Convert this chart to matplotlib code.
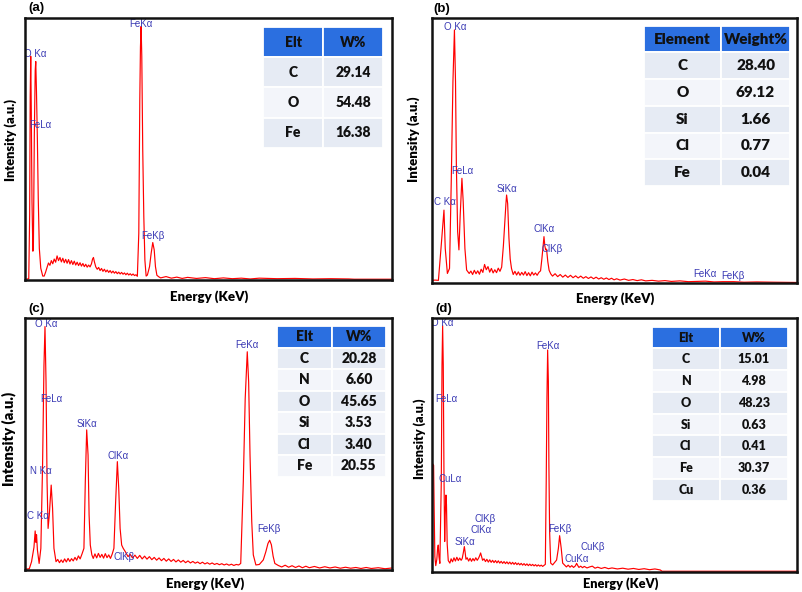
import matplotlib
matplotlib.use('Agg')
import matplotlib.pyplot as plt

A = "\u03b1"
B = "\u03b2"

# ---------------- data (energy keV, intensity a.u. 0-100) ----------------
a_spectrum = [
    (-0.07, 0.3), (0.0, 0.3), (0.14, 0.5), (0.19, 25), (0.22, 70), (0.25, 85.4), (0.28, 65), (0.32, 30),
    (0.37, 11), (0.40, 14), (0.45, 55), (0.50, 80), (0.53, 83.4), (0.57, 72), (0.62, 54), (0.67, 31),
    (0.73, 12), (0.81, 4.5), (0.92, 1.5),
    (1.00, 1.5), (1.08, 3.0), (1.16, 4.8), (1.24, 6.5), (1.32, 5.6), (1.40, 7.4), (1.48, 6.2), (1.56, 8.0),
    (1.64, 6.8), (1.72, 9.2), (1.80, 7.4), (1.88, 8.6), (1.96, 6.9), (2.04, 8.3), (2.12, 6.6), (2.20, 7.9),
    (2.28, 6.4), (2.36, 7.8), (2.44, 6.1), (2.52, 7.4), (2.60, 5.9), (2.68, 7.2), (2.76, 5.7), (2.84, 6.8),
    (2.92, 5.5), (3.00, 6.6), (3.08, 5.3), (3.16, 6.3), (3.24, 5.1), (3.32, 6.0), (3.40, 4.9), (3.48, 5.7),
    (3.56, 5.0), (3.64, 6.2), (3.70, 8.0), (3.75, 8.6), (3.80, 7.0), (3.88, 5.0), (3.96, 4.1), (4.04, 4.8),
    (4.12, 3.6), (4.20, 4.4), (4.28, 3.3), (4.36, 4.1), (4.44, 3.1), (4.52, 3.8), (4.60, 2.9), (4.68, 3.6),
    (4.76, 2.7), (4.84, 3.4), (4.92, 2.6), (5.00, 3.2), (5.08, 2.4), (5.16, 3.0), (5.24, 2.3), (5.32, 2.9),
    (5.40, 2.2), (5.48, 2.7), (5.56, 2.0), (5.64, 2.6), (5.72, 1.9), (5.80, 2.4), (5.88, 1.8), (5.96, 2.3),
    (6.04, 1.7), (6.12, 2.0), (6.20, 1.4),
    (6.28, 17.8), (6.336, 68.8), (6.373, 89), (6.41, 96.8), (6.447, 85.4), (6.50, 49.7), (6.56, 24.2),
    (6.62, 7.6), (6.69, 1.5), (6.76, 1.9), (6.88, 5.1), (6.97, 10.2), (7.06, 14.3), (7.14, 11.5),
    (7.21, 5.1), (7.29, 1.8), (7.40, 1.2),
    (7.5, 0.8), (7.8, 1.3), (8.1, 0.7), (8.4, 1.1), (8.7, 0.6), (9.0, 1.0), (9.5, 0.6), (10.0, 0.9),
    (10.5, 0.5), (11.0, 0.8), (11.5, 0.5), (12.0, 0.7), (12.5, 0.4), (13.0, 0.7), (14.0, 0.5), (15.0, 0.6),
    (16.0, 0.4), (17.0, 0.5), (18.0, 0.4), (18.3, 0.3), (20.4, 0.3)]

b_spectrum = [
    (0.0, 1.0), (0.07, 1.1), (0.15, 1.0), (0.21, 13), (0.28, 27.5), (0.31, 13), (0.36, 3.6), (0.41, 5.5),
    (0.45, 38), (0.49, 76), (0.525, 95.5), (0.55, 76), (0.57, 44.5), (0.60, 19.4), (0.63, 12.5),
    (0.66, 25.7), (0.70, 39.5), (0.73, 30.7), (0.77, 13), (0.81, 4.9),
    (0.87, 3.6), (0.91, 4.5), (0.95, 3.2), (0.99, 4.8), (1.03, 3.5), (1.07, 4.6), (1.11, 3.3), (1.15, 5.2),
    (1.19, 4.0), (1.23, 7.0), (1.27, 5.0), (1.31, 6.2), (1.35, 4.1), (1.39, 5.5), (1.43, 3.8), (1.47, 5.0),
    (1.51, 3.9), (1.55, 5.6), (1.59, 4.4), (1.63, 6.0),
    (1.67, 14), (1.70, 22), (1.73, 30), (1.745, 33.2), (1.77, 30), (1.80, 17), (1.83, 9), (1.86, 5.5),
    (1.90, 3.2), (1.94, 4.4), (1.98, 3.0), (2.02, 4.2), (2.06, 2.9), (2.10, 4.0), (2.14, 3.0), (2.18, 4.3),
    (2.22, 2.8), (2.26, 3.9), (2.30, 2.7), (2.34, 4.1), (2.38, 3.0), (2.42, 3.8), (2.46, 2.9), (2.50, 4.0),
    (2.54, 4.6),
    (2.57, 9), (2.60, 14), (2.62, 17.5), (2.64, 14), (2.66, 12.5), (2.68, 12.8), (2.71, 8), (2.74, 4.8),
    (2.78, 3.4),
    (2.82, 2.6), (2.88, 3.5), (2.94, 2.4), (3.00, 3.2), (3.06, 2.2), (3.12, 3.0), (3.18, 2.1), (3.24, 2.9),
    (3.30, 2.0), (3.36, 2.7), (3.42, 1.9), (3.48, 2.6), (3.54, 1.8), (3.60, 2.4), (3.66, 1.7), (3.72, 2.3),
    (3.78, 1.6), (3.84, 2.2), (3.90, 1.5), (3.96, 2.0), (4.02, 1.4), (4.08, 1.9), (4.14, 1.3), (4.20, 1.8),
    (4.26, 1.2), (4.32, 1.6), (4.40, 1.1), (4.50, 1.5), (4.60, 1.0), (4.70, 1.3), (4.80, 0.9), (4.90, 1.2),
    (5.00, 0.8), (5.15, 1.0), (5.30, 0.7), (5.45, 0.9), (5.60, 0.6), (5.80, 0.8), (6.00, 0.5), (6.20, 0.6),
    (6.40, 0.7), (6.60, 0.4), (6.80, 0.5), (7.06, 0.5), (7.30, 0.3), (7.60, 0.4), (8.00, 0.3), (8.54, 0.2)]

c_spectrum = [
    (-0.05, 0.3), (0.075, 0.5), (0.14, 3.3), (0.21, 9), (0.245, 15.5), (0.265, 11), (0.285, 14), (0.31, 8),
    (0.36, 2.6), (0.41, 8.6), (0.46, 41.7), (0.50, 81), (0.53, 96.6), (0.56, 74.7), (0.59, 35), (0.62, 16.5),
    (0.655, 21.8), (0.71, 33.7), (0.75, 24.5), (0.79, 8.6), (0.85, 3.3),
    (0.90, 4.2), (0.95, 2.9), (1.00, 4.0), (1.05, 3.0), (1.10, 4.4), (1.15, 3.2), (1.20, 4.6), (1.25, 3.4),
    (1.30, 4.5), (1.35, 3.6), (1.40, 5.0), (1.45, 3.9), (1.50, 5.6), (1.55, 4.4), (1.60, 6.2),
    (1.66, 8.6), (1.70, 35), (1.74, 55.6), (1.78, 45.6), (1.81, 21.8), (1.845, 9.9), (1.89, 6.0),
    (1.93, 4.6), (1.98, 6.4), (2.03, 4.8), (2.08, 6.6), (2.13, 5.0), (2.18, 6.2), (2.23, 4.7), (2.28, 6.5),
    (2.33, 4.9), (2.38, 6.0), (2.43, 4.6), (2.48, 6.3),
    (2.53, 8.6), (2.58, 27), (2.63, 43), (2.67, 32.4), (2.71, 16.5), (2.755, 9.9), (2.80, 8.6), (2.86, 7.3),
    (2.94, 5.3),
    (3.00, 6.2), (3.07, 4.8), (3.14, 5.9), (3.21, 4.6), (3.28, 5.8), (3.35, 4.4), (3.42, 5.5), (3.49, 4.3),
    (3.56, 5.3), (3.63, 4.1), (3.70, 5.0), (3.77, 3.9), (3.84, 4.8), (3.91, 3.7), (3.98, 4.6), (4.05, 3.5),
    (4.12, 4.4), (4.19, 3.4), (4.26, 4.2), (4.33, 3.2), (4.40, 4.0), (4.47, 3.1), (4.54, 3.8), (4.61, 2.9),
    (4.68, 3.6), (4.75, 2.8), (4.82, 3.4), (4.89, 2.7), (4.96, 3.2), (5.03, 2.5), (5.10, 3.1), (5.17, 2.4),
    (5.24, 2.9), (5.31, 2.3), (5.38, 2.8), (5.45, 2.2), (5.52, 2.6), (5.59, 2.1), (5.66, 2.5), (5.73, 2.0),
    (5.80, 2.4), (5.87, 1.9), (5.94, 2.3), (6.01, 1.8), (6.08, 2.2), (6.15, 2.0),
    (6.21, 2.6), (6.285, 35), (6.34, 68), (6.40, 86.6), (6.44, 74.7), (6.48, 45.6), (6.53, 19.2),
    (6.575, 6.0), (6.65, 2.0), (6.75, 2.2), (6.865, 4.0), (6.94, 7.3), (7.00, 10.5), (7.05, 11.8),
    (7.10, 10.0), (7.15, 5.5), (7.20, 2.6), (7.30, 1.8),
    (7.40, 1.2), (7.50, 1.9), (7.60, 1.1), (7.70, 1.7), (7.80, 1.0), (7.90, 1.6), (8.00, 0.9), (8.10, 1.5),
    (8.20, 0.9), (8.35, 1.4), (8.50, 0.8), (8.65, 1.3), (8.80, 0.8), (8.95, 1.2), (9.10, 0.7), (9.25, 1.1),
    (9.40, 0.7), (9.55, 1.0), (9.70, 0.6), (9.85, 1.0), (10.0, 0.6), (10.2, 0.9), (10.4, 0.5), (10.6, 0.8)]

d_spectrum = [
    (-0.07, 43), (0.02, 42), (0.05, 25), (0.09, 6), (0.14, 2.5), (0.20, 5), (0.24, 9), (0.28, 10.6),
    (0.32, 6), (0.37, 3.4), (0.45, 35.6), (0.49, 81.5), (0.525, 97), (0.56, 81.5), (0.60, 38), (0.64, 12),
    (0.67, 22.4), (0.71, 30.3), (0.74, 26.5), (0.78, 11), (0.84, 4.5), (0.93, 3.5),
    (1.00, 5.2), (1.08, 4.0), (1.16, 5.6), (1.24, 4.3), (1.32, 5.8), (1.40, 4.5), (1.48, 5.5), (1.56, 4.6),
    (1.62, 5.3), (1.68, 7.5), (1.74, 10), (1.78, 8), (1.83, 5),
    (1.90, 5.6), (1.98, 4.3), (2.06, 5.4), (2.14, 4.2), (2.22, 5.3), (2.30, 4.4), (2.38, 5.6), (2.46, 4.6),
    (2.54, 5.5), (2.60, 6.5), (2.65, 7.5), (2.70, 6.2), (2.76, 4.6),
    (2.84, 5.2), (2.92, 4.1), (3.00, 5.0), (3.08, 3.9), (3.16, 4.8), (3.24, 3.8), (3.32, 4.6), (3.40, 3.7),
    (3.48, 4.5), (3.56, 3.6), (3.64, 4.4), (3.72, 3.5), (3.80, 4.2), (3.88, 3.4), (3.96, 4.1), (4.04, 3.3),
    (4.12, 4.0), (4.20, 3.2), (4.28, 3.9), (4.36, 3.1), (4.44, 3.8), (4.52, 3.0), (4.60, 3.7), (4.68, 2.9),
    (4.76, 3.5), (4.84, 2.8), (4.92, 3.4), (5.00, 2.7), (5.08, 3.3), (5.16, 2.6), (5.24, 3.2), (5.32, 2.5),
    (5.40, 3.1), (5.48, 2.5), (5.56, 3.0), (5.64, 2.4), (5.72, 2.9), (5.80, 2.3), (5.88, 2.8), (5.96, 2.3),
    (6.04, 2.7), (6.12, 2.2), (6.20, 2.6),
    (6.27, 3.0), (6.32, 35.6), (6.36, 68.4), (6.40, 87.4), (6.44, 75), (6.47, 42), (6.51, 15.9),
    (6.57, 3.5), (6.68, 2.8), (6.90, 4.7), (7.00, 9.3), (7.07, 14.3), (7.16, 9.3), (7.24, 3.5), (7.37, 2.6),
    (7.45, 2.0), (7.55, 2.7), (7.65, 1.9), (7.75, 2.5), (7.85, 1.8), (7.95, 2.4), (8.02, 3.4), (8.08, 2.6),
    (8.15, 1.8), (8.25, 2.3), (8.35, 1.7), (8.45, 2.2), (8.6, 1.6), (8.75, 2.0), (8.9, 2.3), (9.05, 1.5),
    (9.2, 1.9), (9.4, 1.4), (9.6, 1.8), (9.8, 1.3), (10.0, 1.6), (10.3, 1.2), (10.6, 1.5), (10.9, 1.1),
    (11.2, 1.4), (11.5, 1.0), (11.8, 1.3), (12.1, 0.9), (12.4, 1.2), (12.7, 0.8), (12.8, 0.3), (20.35, 0.3)]

# peak labels: (text, energy, intensity)
a_labels = [("O K" + A, -0.12, 84.2), ("FeL" + A, 0.14, 57.3), ("FeK" + A, 5.76, 95.8), ("FeK" + B, 6.43, 15.0)]
b_labels = [("O K" + A, 0.29, 94.6), ("FeL" + A, 0.46, 40.5), ("C K" + A, 0.05, 28.6), ("SiK" + A, 1.50, 33.6),
            ("ClK" + A, 2.38, 18.5), ("ClK" + B, 2.57, 10.8), ("FeK" + A, 6.11, 1.5), ("FeK" + B, 6.76, 0.9)]
c_labels = [("O K" + A, 0.24, 95.5), ("FeL" + A, 0.405, 65.7), ("SiK" + A, 1.45, 56), ("ClK" + A, 2.34, 43.3),
            ("N K" + A, 0.095, 37.4), ("C K" + A, 0.0, 19.3), ("ClK" + B, 2.51, 3.3), ("FeK" + A, 6.04, 87.3),
            ("FeK" + B, 6.70, 14.3)]
d_labels = [("O K" + A, -0.12, 96), ("FeL" + A, 0.13, 66), ("CuL" + A, 0.32, 34.6), ("ClK" + B, 2.28, 18.9),
            ("ClK" + A, 2.09, 14.6), ("SiK" + A, 1.21, 10), ("FeK" + A, 5.75, 87.1), ("FeK" + B, 6.43, 14.8),
            ("CuK" + B, 8.21, 7.8), ("CuK" + A, 7.35, 3.1)]

# tables
a_header = ["Elt", "W%"]
a_elements = ["C", "O", "Fe"]
a_values = ["29.14", "54.48", "16.38"]
b_header = ["Element", "Weight%"]
b_elements = ["C", "O", "Si", "Cl", "Fe"]
b_values = ["28.40", "69.12", "1.66", "0.77", "0.04"]
c_header = ["Elt", "W%"]
c_elements = ["C", "N", "O", "Si", "Cl", "Fe"]
c_values = ["20.28", "6.60", "45.65", "3.53", "3.40", "20.55"]
d_header = ["Elt", "W%"]
d_elements = ["C", "N", "O", "Si", "Cl", "Fe", "Cu"]
d_values = ["15.01", "4.98", "48.23", "0.63", "0.41", "30.37", "0.36"]

# ---------------- drawing ----------------
W, H = 803, 592
fig = plt.figure(figsize=(W / 100, H / 100), dpi=100)
fig.patch.set_facecolor('white')

LABEL_FONT = ['Lato', 'DejaVu Sans']
PEAK_FONT = ['Liberation Sans', 'DejaVu Sans']
PEAK_COLOR = '#3a3ab4'


def panel(box_px, spectrum, xlim, labels, header, elements, values, tbl_bbox, col_w, tbl_fs,
          letter, letter_pos, xlab_pos, ylab_pos, xlab_fs, ylab_fs):
    x0, y0, x1, y1 = box_px
    ax = fig.add_axes([x0 / W, 1 - y1 / H, (x1 - x0) / W, (y1 - y0) / H])
    e = [p[0] for p in spectrum]
    v = [p[1] for p in spectrum]
    ax.plot(e, v, color='#ff0000', lw=0.85, zorder=2)
    ax.set_xlim(*xlim)
    ax.set_ylim(0, 100)
    ax.set_xticks([])
    ax.set_yticks([])
    for s in ax.spines.values():
        s.set_linewidth(1.8)
        s.set_color('#111111')
        s.set_zorder(5)
    for txt, ex, iy in labels:
        ax.text(ex, iy, txt, fontsize=7, color=PEAK_COLOR, family=PEAK_FONT,
                ha='left', va='bottom', clip_on=True, zorder=3)
    ax.set_xlabel("Energy (KeV)", fontsize=xlab_fs, fontweight='heavy', family=LABEL_FONT)
    ax.xaxis.set_label_coords(*xlab_pos)
    ax.set_ylabel("Intensity (a.u.)", fontsize=ylab_fs, fontweight='heavy', family=LABEL_FONT)
    ax.yaxis.set_label_coords(*ylab_pos)
    ax.text(letter_pos[0], letter_pos[1], letter, transform=ax.transAxes, fontsize=9.5,
            fontweight='bold', family=['Liberation Sans', 'DejaVu Sans'], ha='left', va='top')
    tbl = ax.table(cellText=[[el, val] for el, val in zip(elements, values)], colLabels=header,
                   cellLoc='center', colWidths=col_w, bbox=tbl_bbox, zorder=4)
    tbl.auto_set_font_size(False)
    for (r, c), cell in tbl.get_celld().items():
        cell.set_edgecolor('white')
        cell.set_linewidth(1.3)
        if r == 0:
            cell.set_facecolor('#2b6fe0')
        else:
            cell.set_facecolor('#e6ebf4' if r % 2 == 1 else '#f3f5fa')
        t = cell.get_text()
        t.set_fontsize(tbl_fs)
        t.set_fontweight('heavy')
        t.set_family(LABEL_FONT)
        t.set_color('#111111')
    return ax


panel((25, 18, 392, 280), a_spectrum, (-0.07, 20.41), a_labels, a_header, a_elements, a_values,
      [0.649, 0.504, 0.327, 0.462], [0.5, 0.5], 10.0, "(a)", (0.008, 1.061),
      (0.503, -0.038), (-0.022, 0.536), 9.5, 9.3)
panel((432, 18, 797, 283), b_spectrum, (0.0, 8.54), b_labels, b_header, b_elements, b_values,
      [0.581, 0.366, 0.400, 0.605], [0.527, 0.473], 11.0, "(b)", (0.003, 1.057),
      (0.501, -0.033), (-0.033, 0.543), 9.5, 9.6)
panel((25, 318, 392, 570), c_spectrum, (-0.05, 10.6), c_labels, c_header, c_elements, c_values,
      [0.687, 0.370, 0.297, 0.598], [0.5, 0.5], 10.0, "(c)", (0.008, 1.060),
      (0.49, -0.028), (-0.0245, 0.52), 9.5, 10.6)
panel((432, 318, 797, 572), d_spectrum, (-0.07, 20.35), d_labels, d_header, d_elements, d_values,
      [0.602, 0.281, 0.373, 0.685], [0.5, 0.5], 9.0, "(d)", (0.008, 1.059),
      (0.518, -0.02), (-0.016, 0.526), 9.2, 9.1)

fig.savefig('out.png', dpi=100, facecolor='white')
